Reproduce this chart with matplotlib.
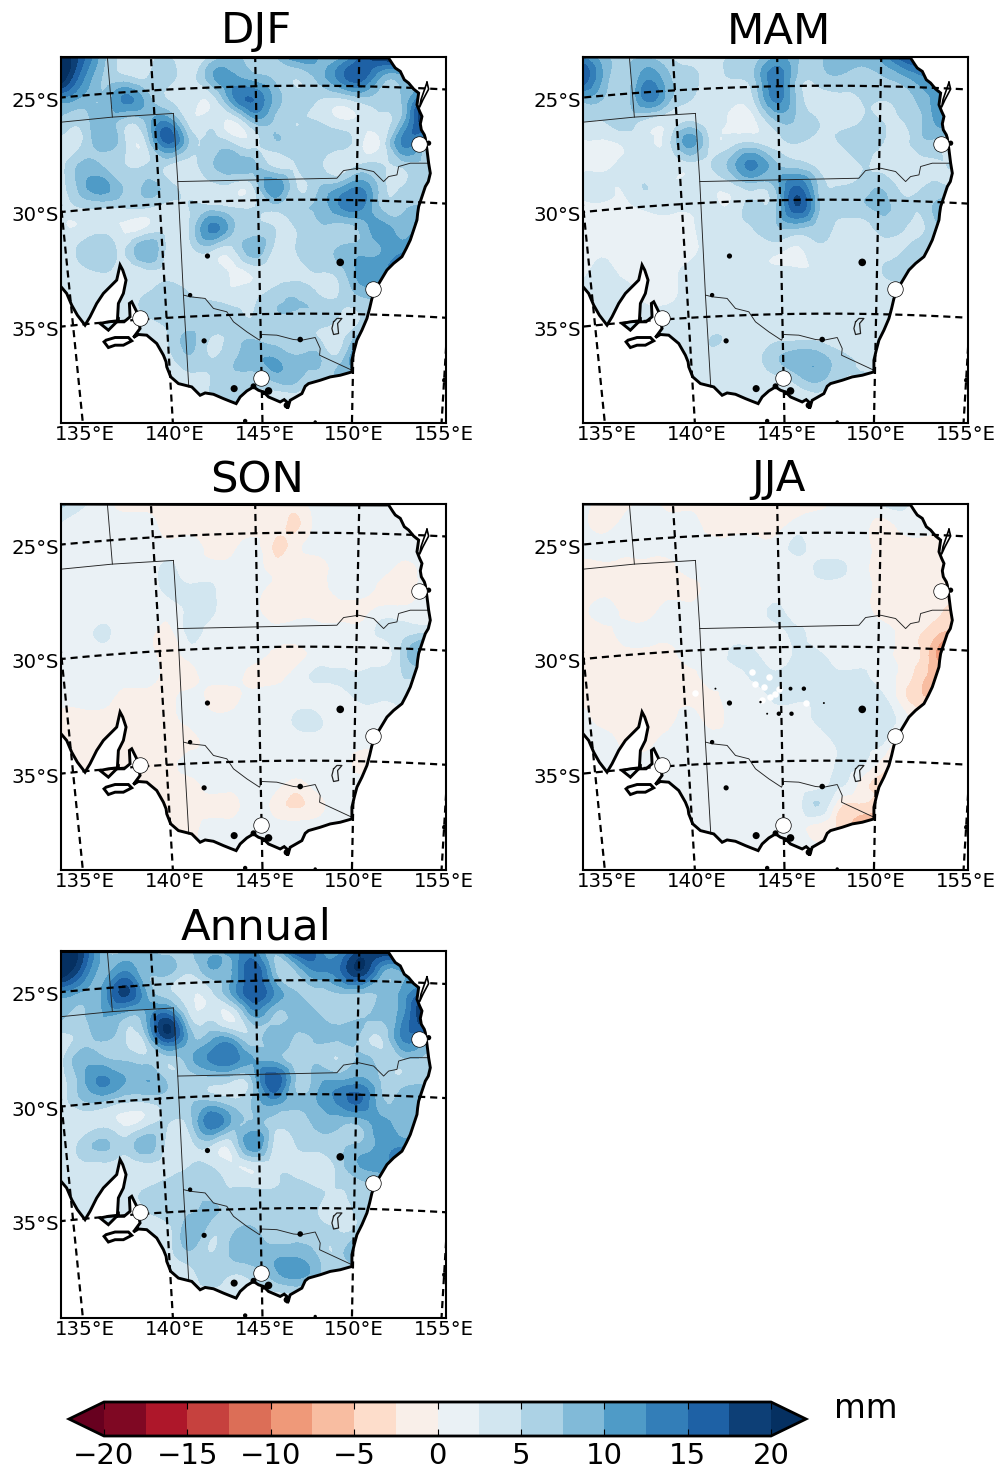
import numpy as np
import matplotlib
matplotlib.use("Agg")
import matplotlib.pyplot as plt
import matplotlib.tri as mtri
from matplotlib.patches import Polygon

W, H, DPI = 1005, 1469, 100
plt.rcParams['font.family'] = 'DejaVu Sans'

titles = ['DJF', 'MAM', 'SON', 'JJA', 'Annual']
levels = np.arange(-20, 20.1, 2.5)
cbar_ticks = [-20, -15, -10, -5, 0, 5, 10, 15, 20]
lon_ticks = [135, 140, 145, 150, 155]
lat_ticks = [25, 30, 35]

# seasonal values (mm), rows north to south, columns west to east
djf = [
 [22,16,8,4,4,5,3,5,8,6,7,12,10,9,15,20,20,18,15],
 [22,13,7,6,5,6,4,9,11,9,7,5,8,13,16,9,9,10,10],
 [11,9,8,13,9,5,4,3,11,15,9,6,5,4,6,6,8,15,15],
 [7,6,9,6,8,12,4,4,2,8,7,5,5,3,3,4,9,20,20],
 [4,5,9,5,5,15,7,6,5,4,7,6,7,6,3,3,13,9,9],
 [4,8,7,5,5,5,4,7,9,8,4,5,6,3,5,5,6,7,7],
 [4,9,11,7,8,6,4,4,4,5,12,5,7,9,12,6,5,6,6],
 [3,5,5,5,5,4,5,6,5,5,6,7,8,12,13,7,7,8,8],
 [3,3,4,2,3,4,5,13,8,6,5,5,7,6,8,11,9,12,12],
 [3,6,7,5,10,4,4,5,4,9,4,5,6,8,9,10,12,12,12],
 [3,4,5,3,4,4,3,4,2,3,3,4,5,6,11,12,14,14,14],
 [4,4,4,4,5,6,5,4,3,4,6,7,5,5,8,8,8,8,8],
 [4,4,4,4,5,6,6,7,6,5,7,7,7,5,5,8,8,8,8],
 [4,4,4,4,4,5,8,5,6,7,6,6,5,4,9,13,13,13,13],
 [4,4,4,4,4,4,7,5,7,9,10,8,8,6,15,15,15,15,15],
 [4,4,4,4,4,3,4,5,7,6,8,8,5,8,8,8,8,8,8],
 [4,4,4,4,4,4,4,5,6,5,3,3,4,4,4,4,4,4,4],
 [4,4,4,4,4,4,4,4,4,4,4,4,4,4,4,4,4,4,4],
]
mam = [
 [12,8,7,7,5,3,4,5,6,10,8,7,9,9,11,17,18,15,12],
 [17,9,6,12,8,6,4,5,7,14,7,6,7,6,7,9,12,12,12],
 [8,7,6,13,8,5,3,3,5,13,7,4,4,5,5,6,9,12,12],
 [5,5,6,4,3,5,3,2,2,7,7,5,4,5,5,5,8,12,12],
 [2,2,3,3,4,11,4,4,5,4,5,4,5,6,5,4,7,5,5],
 [2,2,3,3,3,4,5,9,13,8,6,4,3,5,4,4,4,5,5],
 [3,3,3,5,3,4,3,4,6,8,15,7,5,6,7,4,5,5,5],
 [2,2,2,3,3,3,3,3,6,7,17,8,6,7,8,6,6,10,10],
 [1,1,1,1,1,2,3,3,5,7,7,6,4,3,6,5,5,8,8],
 [1,2,1,1,1,2,3,3,3,3,2,4,4,4,4,5,7,7,7],
 [2,3,2,2,2,3,3,3,3,3,3,3,4,3,5,6,6,6,6],
 [3,3,3,2,2,3,3,3,3,3,4,4,4,4,3,4,4,4,4],
 [3,3,3,3,3,3,3,3,3,3,3,3,3,3,4,5,5,5,5],
 [3,3,3,3,3,3,5,4,3,4,4,4,3,3,4,7,7,7,7],
 [3,3,3,3,3,3,4,3,4,7,9,9,6,4,5,12,12,12,12],
 [3,3,3,3,3,3,3,3,3,4,6,8,5,5,5,5,5,5,5],
 [3,3,3,3,3,3,3,3,3,3,3,3,3,3,3,3,3,3,3],
 [3,3,3,3,3,3,3,3,3,3,3,3,3,3,3,3,3,3,3],
]
son = [
 [6,3,1,-1,-1,-1,-1,-1,-1,-1,-1,-1,1,1,1,1,1,1,1],
 [2,1,1,1,1,-1,-1,-1,-2,-1,-1,-3,1,1,1,1,1,1,1],
 [1,1,1,1,1,1,1,-1,-1,1,-3,-1,1,1,1,1,1,1,1],
 [1,1,1,1,1,3,1,1,1,1,-1,-1,-1,1,1,1,-1,1,1],
 [1,1,1,1,1,3,3,3,1,1,-1,-1,-1,1,1,-1,-2,1,1],
 [1,1,1,2,1,1,3,3,1,1,-2,-1,-1,-1,-1,1,1,1,1],
 [1,1,3,1,1,-1,3,1,1,1,1,1,1,1,1,3,4,5,5],
 [1,1,1,1,1,-1,1,1,1,1,-1,-1,1,1,1,1,6,11,11],
 [1,1,1,1,1,-1,-1,1,1,-1,-1,1,3,3,3,4,5,5,5],
 [1,1,1,-1,-1,-1,1,-1,-1,1,1,1,1,1,3,3,4,4,4],
 [-1,-1,-1,-1,-1,-1,1,1,1,1,1,3,3,1,1,1,1,1,1],
 [-1,-1,-1,-1,-1,-1,-1,1,1,1,1,1,1,1,1,1,1,1,1],
 [-1,-1,-1,-1,-1,-1,1,1,1,1,1,1,1,1,-1,-1,-1,-1,-1],
 [-1,-1,-1,-1,-1,-1,-1,1,1,1,1,-1,1,1,1,1,1,1,1],
 [-1,-1,-1,-1,-1,-1,-1,-1,-1,1,-1,-3,-1,1,1,1,1,1,1],
 [-1,-1,-1,-1,-1,-1,-1,1,1,1,1,1,1,1,1,1,1,1,1],
 [-1,-1,-1,-1,-1,-1,-1,1,1,1,1,1,1,1,1,1,1,1,1],
 [-1,-1,-1,-1,-1,-1,-1,1,1,1,1,1,1,1,1,1,1,1,1],
]
jja = [
 [1,-1,-1,1,-1,-1,-1,-1,-1,-1,-1,-1,1,1,3,3,1,1,1],
 [1,-1,1,1,1,1,-1,-1,-1,-1,1,1,1,1,-1,1,1,1,1],
 [1,1,1,1,1,1,1,1,1,1,3,1,1,1,-1,-1,-1,-1,-1],
 [-1,-1,-1,-1,-1,1,1,1,1,1,1,3,3,1,-1,-1,-1,-1,-1],
 [-1,-1,-1,-1,-1,-1,1,1,1,1,1,1,1,1,-1,-1,-1,-1,-1],
 [-1,1,-1,-1,1,1,1,1,1,3,1,1,1,1,-1,-1,-1,-3,-3],
 [-1,-1,1,1,1,1,1,1,1,1,3,1,1,1,1,-1,-3,-6,-6],
 [-1,-1,-1,-1,-1,1,1,3,3,1,3,3,1,1,1,-1,-4,-11,-11],
 [-1,-1,-1,-1,-1,-1,1,1,3,3,4,4,3,3,1,-1,-5,-5,-5],
 [-1,-1,-1,-1,-1,-1,-1,1,1,3,3,3,3,3,3,-2,-5,-5,-5],
 [1,-1,-1,-1,-1,1,-1,1,1,1,1,3,3,3,4,1,-2,-2,-2],
 [1,1,-1,-1,1,1,1,1,1,1,1,1,3,3,3,-3,-3,-3,-3],
 [1,1,1,1,1,1,1,1,1,1,1,1,3,3,-1,-4,-4,-4,-4],
 [1,1,1,1,1,1,1,1,1,1,1,1,3,-1,-3,-3,-3,-3,-3],
 [1,1,1,1,1,1,1,1,1,1,1,5,-2,-3,-4,-4,-4,-4,-4],
 [1,1,1,1,1,1,1,1,1,1,1,-1,-3,-6,-6,-6,-6,-6,-6],
 [1,1,1,1,1,1,1,1,1,1,1,1,1,1,1,1,1,1,1],
 [1,1,1,1,1,1,1,1,1,1,1,1,1,1,1,1,1,1,1],
]
annual = [
 [23,18,8,7,8,6,7,9,11,14,8,17,14,12,18,20,20,18,15],
 [22,15,9,13,8,8,5,9,10,17,8,7,12,14,19,10,10,10,10],
 [11,9,11,18,10,6,3,4,10,17,12,8,6,7,7,8,11,16,16],
 [8,7,10,8,10,16,5,4,2,10,7,9,8,6,7,8,12,20,20],
 [4,6,8,5,7,18,9,9,9,6,9,7,8,8,7,5,13,12,12],
 [4,9,8,7,6,6,9,13,14,10,9,6,7,5,8,6,7,7,7],
 [4,9,13,10,10,7,6,6,5,8,17,7,9,10,11,7,6,7,7],
 [3,7,7,5,5,6,7,8,6,8,11,8,10,13,15,8,9,9,9],
 [3,3,4,2,4,5,6,14,9,8,6,6,8,8,8,11,8,9,9],
 [3,6,8,6,9,4,4,5,4,12,4,5,6,7,8,11,12,12,12],
 [3,4,4,3,4,4,5,5,3,3,4,4,3,6,10,11,13,13,13],
 [4,4,4,4,5,6,6,6,5,5,5,6,5,5,6,7,7,7,7],
 [4,4,4,4,5,7,7,8,6,6,7,7,5,4,6,8,8,8,8],
 [4,4,4,4,4,4,9,6,7,8,6,7,6,5,7,13,13,13,13],
 [4,4,4,4,4,4,7,5,8,9,9,9,7,6,13,13,13,13,13],
 [4,4,4,4,4,3,4,6,5,6,9,11,8,5,5,5,5,5,5],
 [4,4,4,4,4,4,4,4,4,4,4,4,4,4,4,4,4,4,4],
 [4,4,4,4,4,4,4,4,4,4,4,4,4,4,4,4,4,4,4],
]
fields = [djf, mam, son, jja, annual]

# map outlines in map units
coast_x = [150,1165,1178,1185,1200,1212,1225,1240,1255,1250,1258,1265,1260,1263,1272,1275,1280,1285,1290,1284,1275,1265,1255,1252,
           1250,1240,1230,1218,1205,1180,1160,1148,1130,1115,1108,1100,1085,1070,1062,1055,1055,1020,990,960,925,915,905,870,
           862,860,852,840,805,790,775,760,740,720,708,690,670,640,615,600,575,535,512,500,498,490,470,440,415,400,
           420,410,395,388,390,372,355,355,325,300,325,352,355,370,378,368,360,350,310,290,270,255,232,215,200,183,150]
coast_y = [172,175,195,205,215,240,250,268,280,315,335,350,372,390,405,415,450,490,520,545,560,590,620,640,
           660,690,720,745,770,790,810,830,860,895,925,955,990,1020,1050,1080,1115,1125,1130,1140,1150,1158,1180,1200,
           1225,1205,1198,1205,1190,1175,1170,1160,1172,1190,1210,1203,1195,1182,1178,1185,1160,1150,1130,1100,1085,1065,1030,1005,1003,1012,
           985,935,905,910,950,965,965,960,990,970,965,962,910,880,840,810,795,840,880,910,950,975,945,915,880,860,840]
kangaroo_x = [312,318,345,385,395,370,345,325,312]
kangaroo_y = [1025,1020,1012,1012,1022,1035,1035,1042,1025]
fraser_x = [1280,1285,1268,1258,1262,1280]
fraser_y = [248,268,300,322,300,248]
lake_x = [622,612,702,1020,760,805,900,570,735,945,860,1333,1285,790]
lake_y = [768,1022,1165,787,1158,1172,1018,885,1262,1265,1215,1140,430,1178]
lake_s = [14,14,26,30,18,30,16,10,10,6,22,14,14,10]
borders = [
 ([322,337],[172,352]),
 ([185,337,520],[367,352,341]),
 ([520,533,550,566],[341,545,885,1160]),
 ([533,1010,1030,1075,1120,1150,1165,1190,1195,1230,1282],[545,535,512,505,515,545,530,525,500,490,490]),
 ([550,570,615,640,680,700,740,778,785,830,880,905,945,960,958,1055],
  [885,890,895,925,935,965,995,1020,1003,1005,1018,1020,1012,1045,1065,1110]),
]
act_x = [1000,1010,1025,1012,1015,1000,995,1000]
act_y = [965,955,955,970,1000,1003,985,965]
city_lon = [138.6, 144.96, 150.95, 153.03]
city_lat = [-34.93, -37.81, -33.87, -27.47]
jja_white_x = [700,725,740,760,720,745,520,850,770,690]
jja_white_y = [710,720,690,740,760,750,738,768,725,675]
jja_dot_x = [770,808,805,845,715,735,580,905]
jja_dot_y = [800,800,725,725,765,800,725,768]
jja_dot_s = [10,10,8,10,3,2,2,2]

X0, YA, RHO25, DRHO, N = 921.0, 7971.0, 7713.0, 68.25, 0.008
XL, XR, YT, YB = 183, 1337, 172, 1268

def proj(lon, lat):
    lon, lat = np.asarray(lon, float), np.asarray(lat, float)
    r = RHO25 - (-lat - 25.0) * DRHO
    t = (lon - 147.5) * N
    return X0 + r * np.sin(t), YA - r * np.cos(t)

boxes = [(61, 57), (583, 57), (61, 504), (583, 504), (61, 951.5)]
title_pads = [14, 13, 11, 13, 12]
fig = plt.figure(figsize=(W / DPI, H / DPI), dpi=DPI)

def add_axes_px(x0, y0, x1, y1):
    return fig.add_axes([x0 / W, 1 - y1 / H, (x1 - x0) / W, (y1 - y0) / H])

for i, (name, vals) in enumerate(zip(titles, fields)):
    bx, by = boxes[i]
    ax = add_axes_px(bx, by, bx + 385, by + 366)
    z = np.array(vals, float)
    gx, gy = np.meshgrid(np.linspace(XL, XR, z.shape[1]), np.linspace(YT, YB, z.shape[0]))
    land = Polygon(np.c_[coast_x, coast_y], closed=True, fc='none', ec='black', lw=2.1, zorder=3)
    ax.add_patch(land)
    tri_fine, z_fine = mtri.UniformTriRefiner(mtri.Triangulation(gx.ravel(), gy.ravel())).refine_field(z.ravel(), subdiv=3)
    cs = ax.tricontourf(tri_fine, z_fine, levels=levels, cmap='RdBu', extend='both', zorder=1)
    cs.set_clip_path(land)
    ax.add_patch(Polygon(np.c_[kangaroo_x, kangaroo_y], closed=True, fc='white', ec='black', lw=2.1, zorder=3))
    ax.plot(fraser_x, fraser_y, color='black', lw=1.2, zorder=3)
    for bxs, bys in borders:
        ax.plot(bxs, bys, color='#222222', lw=0.65, zorder=2)
    ax.plot(act_x, act_y, color='#222222', lw=0.9, zorder=2)
    ax.scatter(lake_x, lake_y, s=lake_s, c='black', lw=0, zorder=3)
    if name == 'JJA':
        ax.scatter(jja_white_x, jja_white_y, s=22, c='white', lw=0, zorder=2)
        ax.scatter(jja_dot_x, jja_dot_y, s=jja_dot_s, c='black', lw=0, zorder=3)
    lat_line = np.linspace(-45, -18, 200)
    lon_line = np.linspace(128, 166, 300)
    xt = []
    for lo in lon_ticks:
        mx, my = proj(np.full_like(lat_line, lo), lat_line)
        ax.plot(mx, my, color='black', lw=1.6, ls=(0, (3.2, 2.2)), zorder=4)
        xt.append(np.interp(YB, my[::-1] if my[0] > my[-1] else my, mx[::-1] if my[0] > my[-1] else mx) + 6)
    yt = []
    for la in lat_ticks:
        px, py = proj(lon_line, np.full_like(lon_line, -la))
        ax.plot(px, py, color='black', lw=1.6, ls=(0, (3.2, 2.2)), zorder=4)
        yt.append(np.interp(XL, px, py) + 5)
    ax.scatter(*proj(city_lon, city_lat), s=125, c='white', edgecolors='black', linewidths=0.5, zorder=5)
    ax.set_xlim(XL, XR)
    ax.set_ylim(YB, YT)
    ax.set_xticks(xt, [f'{v}°E' for v in lon_ticks])
    ax.set_yticks(yt, [f'{v}°S' for v in lat_ticks])
    ax.tick_params(length=0, labelsize=14.2, pad=1.5)
    for sp in ax.spines.values():
        sp.set_linewidth(1.5)
    ax.set_title(name, fontsize=31.2, pad=title_pads[i] * 0.72, x=0.508)

cax = add_axes_px(69, 1402, 806, 1436)
cb = fig.colorbar(cs, cax=cax, orientation='horizontal', extendfrac=35 / 667, ticks=cbar_ticks)
cb.outline.set_linewidth(2)
cb.ax.tick_params(direction='in', length=5, width=0.8, top=True, labelsize=21, pad=4)
fig.text(866 / W, 1 - 1408 / H, 'mm', fontsize=23.5, ha='center', va='center')
fig.savefig('out.png', dpi=DPI)
